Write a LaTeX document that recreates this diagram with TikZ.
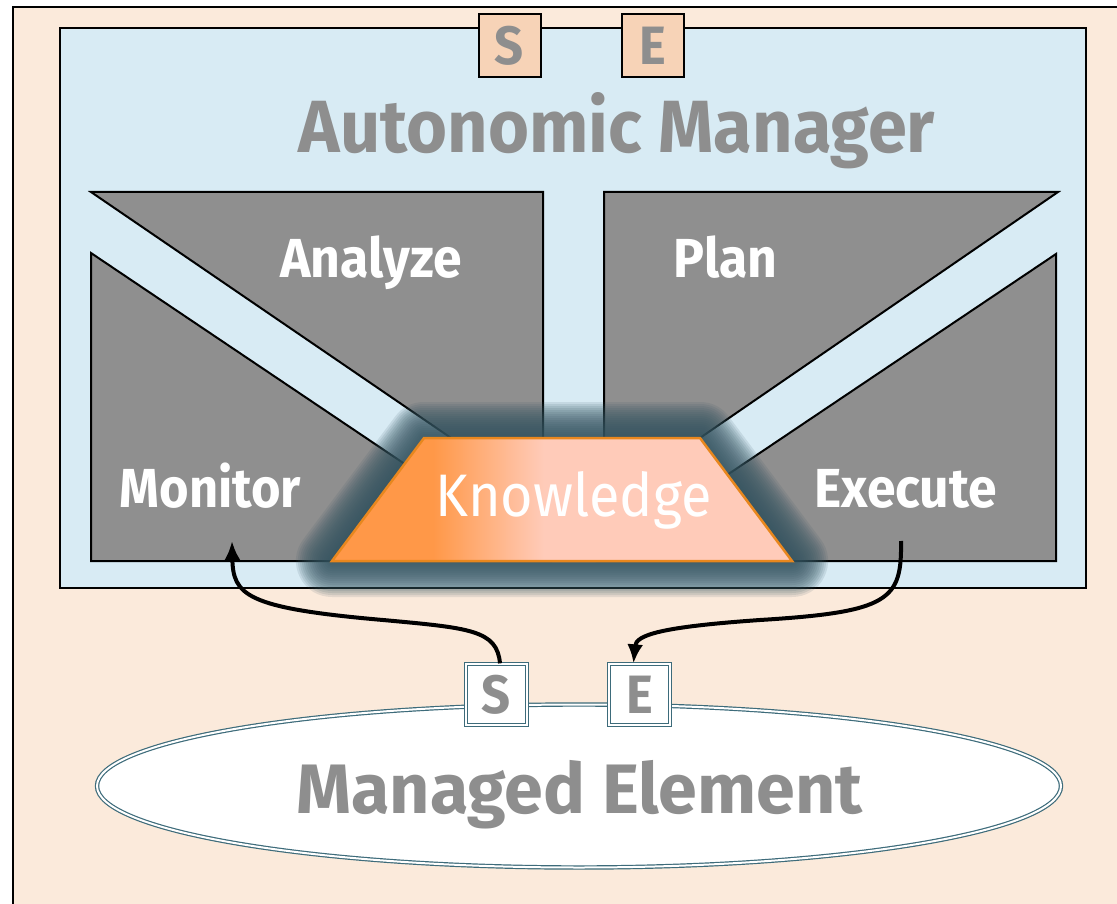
\documentclass[tikz,border=0pt]{standalone}
\usepackage{fontspec}
\setmainfont{Fira Sans}
\usetikzlibrary{calc,shapes.geometric,arrows.meta}
\definecolor{mgrpeach}{HTML}{FBEADB}
\definecolor{mgrblue}{HTML}{D8EBF4}
\definecolor{blockgrey}{HTML}{8F8F8F}
\definecolor{labelgrey}{HTML}{8E8E8E}
\definecolor{sensorfill}{HTML}{F7D3B7}
\definecolor{knoworange}{HTML}{FF9848}
\definecolor{knowpink}{HTML}{FFCBB9}
\definecolor{knowedge}{HTML}{E8871E}
\definecolor{glowteal}{HTML}{365561}
\definecolor{elemteal}{HTML}{3D6B7A}
\pgfdeclarehorizontalshading{knowshade}{100bp}{color(0bp)=(knoworange); color(36bp)=(knoworange); color(48bp)=(knowpink); color(100bp)=(knowpink)}
\def\bigfont#1{\fontsize{#1}{#1}\selectfont}
\def\narrow#1{\scalebox{0.94}[1]{#1}}
\tikzset{
	block/.style={fill=blockgrey, draw=black, line width=2pt},
	phase/.style={anchor=base, text=white, font=\bfseries\bigfont{55}},
	touchtop/.style={draw=black, line width=2pt, fill=sensorfill, minimum width=62pt, minimum height=63pt, inner sep=0pt, text=labelgrey, font=\bfseries\bigfont{54}},
	touchbot/.style={draw=elemteal, double=white, double distance=2pt, line width=1.3pt, fill=white, minimum width=61pt, minimum height=61pt, inner sep=0pt, text=labelgrey, font=\bfseries\bigfont{54}},
	flow/.style={line width=4pt, -{Latex[length=19pt,width=16pt]}},
}

\begin{document}
\begin{tikzpicture}[x=1pt, y=-1pt]
			%%%%% START %%%%%
			\useasboundingbox (0, 0) rectangle (1117, 904);
			\clip (0, 0) rectangle (1117, 904);
			
			\draw[fill=mgrpeach, line width=2pt] (13, 7) rectangle (1140, 930);
			\draw[fill=mgrblue, line width=2pt] (60, 28) rectangle (1086, 588);
			
			\node[touchtop] (stop) at (509.5, 45.5) {\narrow{S}};
			\node[touchtop] (etop) at (653, 45.5) {\narrow{E}};
			\node[anchor=base, text=labelgrey, font=\bfseries\bigfont{74}] (amtitle) at (617, 153) {\scalebox{0.95}[1]{Autonomic Manager}};
			
			% the four phases
			\draw[block] (91, 192) -- (543, 192) -- (543, 440) -- (454, 440) -- cycle;
			\draw[block] (91, 253) -- (91, 561) -- (549, 561) -- cycle;
			\draw[block] (604, 192) -- (1058, 192) -- (697, 440) -- (604, 440) -- cycle;
			\draw[block] (1056, 254) -- (1056, 561) -- (599, 561) -- cycle;
			
			% glow round the knowledge
			\foreach \w in {72,68,...,4}
				\draw[glowteal, line width=\w pt, line join=round, opacity=0.12] (424, 438) -- (700, 438) -- (792, 561) -- (332, 561) -- cycle;
			\draw[shading=knowshade, draw=knowedge, line width=2.5pt] (424, 438) -- (700, 438) -- (792, 561) -- (332, 561) -- cycle;
			
			\node[phase] (analyze) at (371, 278) {\narrow{Analyze}};
			\node[phase] (plan) at (725.5, 278) {\narrow{Plan}};
			\node[phase] (monitor) at (210.5, 507) {\scalebox{0.92}[1]{Monitor}};
			\node[phase] (execute) at (905.5, 507) {\narrow{Execute}};
			\node[anchor=base, text=white, font=\bigfont{60}] (know) at (573.5, 516) {\scalebox{0.93}[1]{Knowledge}};
			
			% managed element
			\node[ellipse, draw=elemteal, double=white, double distance=2pt, line width=1.2pt, fill=white, minimum width=964pt, minimum height=163pt] (elem) at (579, 786) {};
			\node[anchor=base, text=labelgrey, font=\bfseries\bigfont{70}] (elemtitle) at (579.5, 813) {Managed Element};
			\node[touchbot] (sbot) at (496.5, 694.5) {\narrow{S}};
			\node[touchbot] (ebot) at (639.5, 694.5) {\narrow{E}};
			
			\coordinate (montip) at (232, 541);
			\coordinate (exetail) at (901, 541);
			\draw[flow] ([xshift=3.5pt]sbot.north) .. controls (497, 630) and (470, 628) .. (383, 620) .. controls (245, 608) and (233, 595) .. (montip);
			\draw[flow] (exetail) .. controls (902, 600) and (890, 612) .. (760, 620) .. controls (660, 627) and (636, 635) .. ([xshift=-6pt]ebot.north);
			%%%%% END %%%%%
\end{tikzpicture}
\end{document}
